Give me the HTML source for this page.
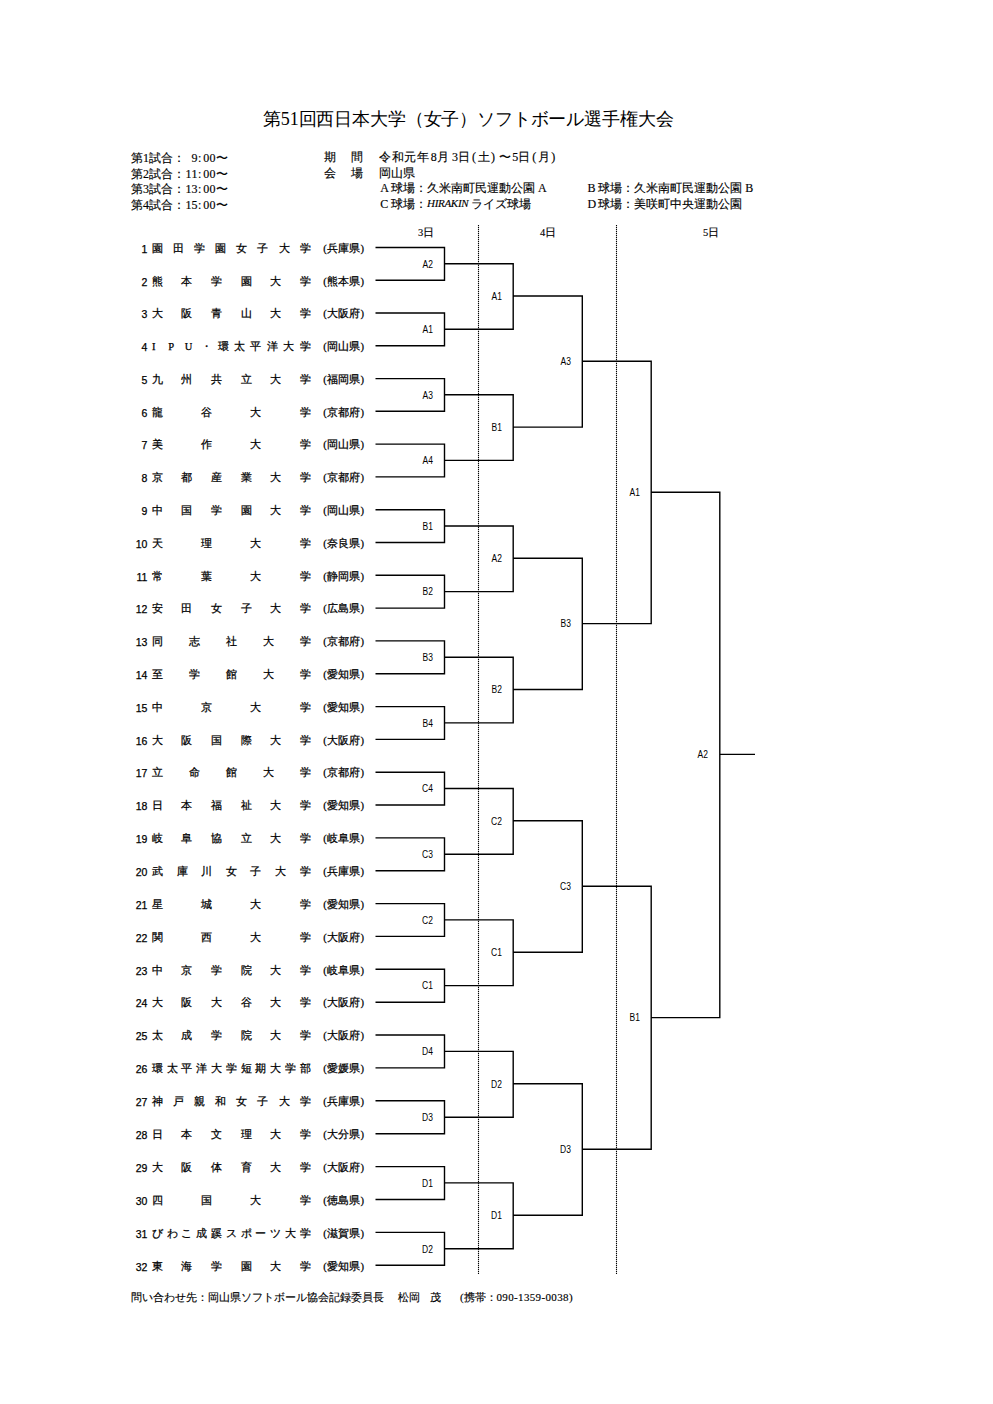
<!DOCTYPE html>
<html><head><meta charset="utf-8">
<style>
html,body{margin:0;padding:0;background:#fff;}
body{width:993px;height:1404px;position:relative;overflow:hidden;font-family:"Liberation Serif",serif;color:#000;}
.nm{-webkit-text-stroke:0.25px #000;} .t{-webkit-text-stroke:0.15px #000;} .ttl{-webkit-text-stroke:0px;}
.t{position:absolute;white-space:nowrap;line-height:1;}
.nm{position:absolute;font-size:10.5px;line-height:10px;white-space:nowrap;}
.lb{position:absolute;font-family:"Liberation Sans",sans-serif;font-size:10px;line-height:10px;white-space:nowrap;transform:translate(-100%,-50%) scaleX(0.85);transform-origin:100% 50%;}
</style></head><body>

<div class="t ttl" style="left:263px;top:109.6px;font-size:18px;letter-spacing:-0.15px;">第51回西日本大学（女子）ソフトボール選手権大会</div>
<div class="t" style="left:131.0px;top:152.0px;font-size:12px;">第1試合</div>
<div class="t" style="left:172.9px;top:152.0px;font-size:12px;">：</div>
<div class="t" style="left:191.6px;top:152.0px;font-size:12px;">9</div>
<div class="t" style="left:197.9px;top:152.0px;font-size:12px;">:</div>
<div class="t" style="left:203.2px;top:152.0px;font-size:12px;">0</div>
<div class="t" style="left:209.5px;top:152.0px;font-size:12px;">0</div>
<div class="t" style="left:215.5px;top:152.0px;font-size:12px;">〜</div>
<div class="t" style="left:131.0px;top:167.7px;font-size:12px;">第2試合</div>
<div class="t" style="left:172.9px;top:167.7px;font-size:12px;">：</div>
<div class="t" style="left:185.5px;top:167.7px;font-size:12px;">1</div>
<div class="t" style="left:191.6px;top:167.7px;font-size:12px;">1</div>
<div class="t" style="left:197.9px;top:167.7px;font-size:12px;">:</div>
<div class="t" style="left:203.2px;top:167.7px;font-size:12px;">0</div>
<div class="t" style="left:209.5px;top:167.7px;font-size:12px;">0</div>
<div class="t" style="left:215.5px;top:167.7px;font-size:12px;">〜</div>
<div class="t" style="left:131.0px;top:183.4px;font-size:12px;">第3試合</div>
<div class="t" style="left:172.9px;top:183.4px;font-size:12px;">：</div>
<div class="t" style="left:185.5px;top:183.4px;font-size:12px;">1</div>
<div class="t" style="left:191.6px;top:183.4px;font-size:12px;">3</div>
<div class="t" style="left:197.9px;top:183.4px;font-size:12px;">:</div>
<div class="t" style="left:203.2px;top:183.4px;font-size:12px;">0</div>
<div class="t" style="left:209.5px;top:183.4px;font-size:12px;">0</div>
<div class="t" style="left:215.5px;top:183.4px;font-size:12px;">〜</div>
<div class="t" style="left:131.0px;top:199.1px;font-size:12px;">第4試合</div>
<div class="t" style="left:172.9px;top:199.1px;font-size:12px;">：</div>
<div class="t" style="left:185.5px;top:199.1px;font-size:12px;">1</div>
<div class="t" style="left:191.6px;top:199.1px;font-size:12px;">5</div>
<div class="t" style="left:197.9px;top:199.1px;font-size:12px;">:</div>
<div class="t" style="left:203.2px;top:199.1px;font-size:12px;">0</div>
<div class="t" style="left:209.5px;top:199.1px;font-size:12px;">0</div>
<div class="t" style="left:215.5px;top:199.1px;font-size:12px;">〜</div>
<div class="t" style="left:324.0px;top:151.0px;font-size:12px;">期</div>
<div class="t" style="left:351.0px;top:151.0px;font-size:12px;">間</div>
<div class="t" style="left:379.0px;top:151.0px;font-size:12px;letter-spacing:0.6px;">令和元年</div>
<div class="t" style="left:430.8px;top:151.0px;font-size:12px;">8</div>
<div class="t" style="left:436.5px;top:151.0px;font-size:12px;">月</div>
<div class="t" style="left:452.0px;top:151.0px;font-size:12px;">3</div>
<div class="t" style="left:458.3px;top:151.0px;font-size:12px;">日</div>
<div class="t" style="left:472.0px;top:151.0px;font-size:12px;">(</div>
<div class="t" style="left:477.5px;top:151.0px;font-size:12px;">土</div>
<div class="t" style="left:491.0px;top:151.0px;font-size:12px;">)</div>
<div class="t" style="left:498.5px;top:151.0px;font-size:12px;">〜</div>
<div class="t" style="left:512.3px;top:151.0px;font-size:12px;">5</div>
<div class="t" style="left:517.7px;top:151.0px;font-size:12px;">日</div>
<div class="t" style="left:532.2px;top:151.0px;font-size:12px;">(</div>
<div class="t" style="left:538.0px;top:151.0px;font-size:12px;">月</div>
<div class="t" style="left:551.3px;top:151.0px;font-size:12px;">)</div>
<div class="t" style="left:324.0px;top:167.0px;font-size:12px;">会</div>
<div class="t" style="left:351.0px;top:167.0px;font-size:12px;">場</div>
<div class="t" style="left:379.0px;top:167.0px;font-size:12px;">岡山県</div>
<div class="t" style="left:380.2px;top:182.0px;font-size:12px;">A</div>
<div class="t" style="left:390.6px;top:182.0px;font-size:12px;letter-spacing:0.05px;">球場：久米南町民運動公園</div>
<div class="t" style="left:538.0px;top:182.0px;font-size:12px;">A</div>
<div class="t" style="left:587.5px;top:182.0px;font-size:12px;">B</div>
<div class="t" style="left:597.9px;top:182.0px;font-size:12px;letter-spacing:0.05px;">球場：久米南町民運動公園</div>
<div class="t" style="left:745.3px;top:182.0px;font-size:12px;">B</div>
<div class="t" style="left:380.2px;top:198.0px;font-size:12px;">C</div>
<div class="t" style="left:390.6px;top:198.0px;font-size:12px;">球場：</div>
<div class="t" style="left:427.0px;top:198.0px;font-size:11px;letter-spacing:-0.3px;"><i>HIRAKIN</i></div>
<div class="t" style="left:470.5px;top:198.0px;font-size:12px;">ライズ球場</div>
<div class="t" style="left:587.5px;top:198.0px;font-size:12px;">D</div>
<div class="t" style="left:597.9px;top:198.0px;font-size:12px;letter-spacing:0.05px;">球場：美咲町中央運動公園</div>
<div class="t" style="left:418.0px;top:228.0px;font-size:10.5px;">3日</div>
<div class="t" style="left:540.0px;top:228.0px;font-size:10.5px;">4日</div>
<div class="t" style="left:703.0px;top:228.0px;font-size:10.5px;">5日</div>
<div class="nm" style="right:845.7px;top:243.7px;font-family:'Liberation Sans',sans-serif;">1</div>
<div class="nm" style="left:151.9px;top:243.7px;">園</div>
<div class="nm" style="left:173.0px;top:243.7px;">田</div>
<div class="nm" style="left:194.1px;top:243.7px;">学</div>
<div class="nm" style="left:215.2px;top:243.7px;">園</div>
<div class="nm" style="left:236.3px;top:243.7px;">女</div>
<div class="nm" style="left:257.4px;top:243.7px;">子</div>
<div class="nm" style="left:278.5px;top:243.7px;">大</div>
<div class="nm" style="left:299.6px;top:243.7px;">学</div>
<div class="nm" style="left:323.2px;top:243.7px;">(</div>
<div class="nm" style="left:327.3px;top:243.7px;">兵</div>
<div class="nm" style="left:338.2px;top:243.7px;">庫</div>
<div class="nm" style="left:349.1px;top:243.7px;">県</div>
<div class="nm" style="left:360.5px;top:243.7px;">)</div>
<div class="nm" style="right:845.7px;top:276.5px;font-family:'Liberation Sans',sans-serif;">2</div>
<div class="nm" style="left:151.9px;top:276.5px;">熊</div>
<div class="nm" style="left:181.4px;top:276.5px;">本</div>
<div class="nm" style="left:211.0px;top:276.5px;">学</div>
<div class="nm" style="left:240.5px;top:276.5px;">園</div>
<div class="nm" style="left:270.1px;top:276.5px;">大</div>
<div class="nm" style="left:299.6px;top:276.5px;">学</div>
<div class="nm" style="left:323.2px;top:276.5px;">(</div>
<div class="nm" style="left:327.3px;top:276.5px;">熊</div>
<div class="nm" style="left:338.2px;top:276.5px;">本</div>
<div class="nm" style="left:349.1px;top:276.5px;">県</div>
<div class="nm" style="left:360.5px;top:276.5px;">)</div>
<div class="nm" style="right:845.7px;top:309.2px;font-family:'Liberation Sans',sans-serif;">3</div>
<div class="nm" style="left:151.9px;top:309.2px;">大</div>
<div class="nm" style="left:181.4px;top:309.2px;">阪</div>
<div class="nm" style="left:211.0px;top:309.2px;">青</div>
<div class="nm" style="left:240.5px;top:309.2px;">山</div>
<div class="nm" style="left:270.1px;top:309.2px;">大</div>
<div class="nm" style="left:299.6px;top:309.2px;">学</div>
<div class="nm" style="left:323.2px;top:309.2px;">(</div>
<div class="nm" style="left:327.3px;top:309.2px;">大</div>
<div class="nm" style="left:338.2px;top:309.2px;">阪</div>
<div class="nm" style="left:349.1px;top:309.2px;">府</div>
<div class="nm" style="left:360.5px;top:309.2px;">)</div>
<div class="nm" style="right:845.7px;top:342.0px;font-family:'Liberation Sans',sans-serif;">4</div>
<div class="nm" style="left:151.9px;top:342.0px;">I</div>
<div class="nm" style="left:168.3px;top:342.0px;">P</div>
<div class="nm" style="left:184.7px;top:342.0px;">U</div>
<div class="nm" style="left:201.1px;top:342.0px;">・</div>
<div class="nm" style="left:217.5px;top:342.0px;">環</div>
<div class="nm" style="left:234.0px;top:342.0px;">太</div>
<div class="nm" style="left:250.4px;top:342.0px;">平</div>
<div class="nm" style="left:266.8px;top:342.0px;">洋</div>
<div class="nm" style="left:283.2px;top:342.0px;">大</div>
<div class="nm" style="left:299.6px;top:342.0px;">学</div>
<div class="nm" style="left:323.2px;top:342.0px;">(</div>
<div class="nm" style="left:327.3px;top:342.0px;">岡</div>
<div class="nm" style="left:338.2px;top:342.0px;">山</div>
<div class="nm" style="left:349.1px;top:342.0px;">県</div>
<div class="nm" style="left:360.5px;top:342.0px;">)</div>
<div class="nm" style="right:845.7px;top:374.8px;font-family:'Liberation Sans',sans-serif;">5</div>
<div class="nm" style="left:151.9px;top:374.8px;">九</div>
<div class="nm" style="left:181.4px;top:374.8px;">州</div>
<div class="nm" style="left:211.0px;top:374.8px;">共</div>
<div class="nm" style="left:240.5px;top:374.8px;">立</div>
<div class="nm" style="left:270.1px;top:374.8px;">大</div>
<div class="nm" style="left:299.6px;top:374.8px;">学</div>
<div class="nm" style="left:323.2px;top:374.8px;">(</div>
<div class="nm" style="left:327.3px;top:374.8px;">福</div>
<div class="nm" style="left:338.2px;top:374.8px;">岡</div>
<div class="nm" style="left:349.1px;top:374.8px;">県</div>
<div class="nm" style="left:360.5px;top:374.8px;">)</div>
<div class="nm" style="right:845.7px;top:407.5px;font-family:'Liberation Sans',sans-serif;">6</div>
<div class="nm" style="left:151.9px;top:407.5px;">龍</div>
<div class="nm" style="left:201.1px;top:407.5px;">谷</div>
<div class="nm" style="left:250.4px;top:407.5px;">大</div>
<div class="nm" style="left:299.6px;top:407.5px;">学</div>
<div class="nm" style="left:323.2px;top:407.5px;">(</div>
<div class="nm" style="left:327.3px;top:407.5px;">京</div>
<div class="nm" style="left:338.2px;top:407.5px;">都</div>
<div class="nm" style="left:349.1px;top:407.5px;">府</div>
<div class="nm" style="left:360.5px;top:407.5px;">)</div>
<div class="nm" style="right:845.7px;top:440.3px;font-family:'Liberation Sans',sans-serif;">7</div>
<div class="nm" style="left:151.9px;top:440.3px;">美</div>
<div class="nm" style="left:201.1px;top:440.3px;">作</div>
<div class="nm" style="left:250.4px;top:440.3px;">大</div>
<div class="nm" style="left:299.6px;top:440.3px;">学</div>
<div class="nm" style="left:323.2px;top:440.3px;">(</div>
<div class="nm" style="left:327.3px;top:440.3px;">岡</div>
<div class="nm" style="left:338.2px;top:440.3px;">山</div>
<div class="nm" style="left:349.1px;top:440.3px;">県</div>
<div class="nm" style="left:360.5px;top:440.3px;">)</div>
<div class="nm" style="right:845.7px;top:473.1px;font-family:'Liberation Sans',sans-serif;">8</div>
<div class="nm" style="left:151.9px;top:473.1px;">京</div>
<div class="nm" style="left:181.4px;top:473.1px;">都</div>
<div class="nm" style="left:211.0px;top:473.1px;">産</div>
<div class="nm" style="left:240.5px;top:473.1px;">業</div>
<div class="nm" style="left:270.1px;top:473.1px;">大</div>
<div class="nm" style="left:299.6px;top:473.1px;">学</div>
<div class="nm" style="left:323.2px;top:473.1px;">(</div>
<div class="nm" style="left:327.3px;top:473.1px;">京</div>
<div class="nm" style="left:338.2px;top:473.1px;">都</div>
<div class="nm" style="left:349.1px;top:473.1px;">府</div>
<div class="nm" style="left:360.5px;top:473.1px;">)</div>
<div class="nm" style="right:845.7px;top:505.9px;font-family:'Liberation Sans',sans-serif;">9</div>
<div class="nm" style="left:151.9px;top:505.9px;">中</div>
<div class="nm" style="left:181.4px;top:505.9px;">国</div>
<div class="nm" style="left:211.0px;top:505.9px;">学</div>
<div class="nm" style="left:240.5px;top:505.9px;">園</div>
<div class="nm" style="left:270.1px;top:505.9px;">大</div>
<div class="nm" style="left:299.6px;top:505.9px;">学</div>
<div class="nm" style="left:323.2px;top:505.9px;">(</div>
<div class="nm" style="left:327.3px;top:505.9px;">岡</div>
<div class="nm" style="left:338.2px;top:505.9px;">山</div>
<div class="nm" style="left:349.1px;top:505.9px;">県</div>
<div class="nm" style="left:360.5px;top:505.9px;">)</div>
<div class="nm" style="right:845.7px;top:538.7px;font-family:'Liberation Sans',sans-serif;">10</div>
<div class="nm" style="left:151.9px;top:538.7px;">天</div>
<div class="nm" style="left:201.1px;top:538.7px;">理</div>
<div class="nm" style="left:250.4px;top:538.7px;">大</div>
<div class="nm" style="left:299.6px;top:538.7px;">学</div>
<div class="nm" style="left:323.2px;top:538.7px;">(</div>
<div class="nm" style="left:327.3px;top:538.7px;">奈</div>
<div class="nm" style="left:338.2px;top:538.7px;">良</div>
<div class="nm" style="left:349.1px;top:538.7px;">県</div>
<div class="nm" style="left:360.5px;top:538.7px;">)</div>
<div class="nm" style="right:845.7px;top:571.5px;font-family:'Liberation Sans',sans-serif;">11</div>
<div class="nm" style="left:151.9px;top:571.5px;">常</div>
<div class="nm" style="left:201.1px;top:571.5px;">葉</div>
<div class="nm" style="left:250.4px;top:571.5px;">大</div>
<div class="nm" style="left:299.6px;top:571.5px;">学</div>
<div class="nm" style="left:323.2px;top:571.5px;">(</div>
<div class="nm" style="left:327.3px;top:571.5px;">静</div>
<div class="nm" style="left:338.2px;top:571.5px;">岡</div>
<div class="nm" style="left:349.1px;top:571.5px;">県</div>
<div class="nm" style="left:360.5px;top:571.5px;">)</div>
<div class="nm" style="right:845.7px;top:604.3px;font-family:'Liberation Sans',sans-serif;">12</div>
<div class="nm" style="left:151.9px;top:604.3px;">安</div>
<div class="nm" style="left:181.4px;top:604.3px;">田</div>
<div class="nm" style="left:211.0px;top:604.3px;">女</div>
<div class="nm" style="left:240.5px;top:604.3px;">子</div>
<div class="nm" style="left:270.1px;top:604.3px;">大</div>
<div class="nm" style="left:299.6px;top:604.3px;">学</div>
<div class="nm" style="left:323.2px;top:604.3px;">(</div>
<div class="nm" style="left:327.3px;top:604.3px;">広</div>
<div class="nm" style="left:338.2px;top:604.3px;">島</div>
<div class="nm" style="left:349.1px;top:604.3px;">県</div>
<div class="nm" style="left:360.5px;top:604.3px;">)</div>
<div class="nm" style="right:845.7px;top:637.1px;font-family:'Liberation Sans',sans-serif;">13</div>
<div class="nm" style="left:151.9px;top:637.1px;">同</div>
<div class="nm" style="left:188.8px;top:637.1px;">志</div>
<div class="nm" style="left:225.8px;top:637.1px;">社</div>
<div class="nm" style="left:262.7px;top:637.1px;">大</div>
<div class="nm" style="left:299.6px;top:637.1px;">学</div>
<div class="nm" style="left:323.2px;top:637.1px;">(</div>
<div class="nm" style="left:327.3px;top:637.1px;">京</div>
<div class="nm" style="left:338.2px;top:637.1px;">都</div>
<div class="nm" style="left:349.1px;top:637.1px;">府</div>
<div class="nm" style="left:360.5px;top:637.1px;">)</div>
<div class="nm" style="right:845.7px;top:669.9px;font-family:'Liberation Sans',sans-serif;">14</div>
<div class="nm" style="left:151.9px;top:669.9px;">至</div>
<div class="nm" style="left:188.8px;top:669.9px;">学</div>
<div class="nm" style="left:225.8px;top:669.9px;">館</div>
<div class="nm" style="left:262.7px;top:669.9px;">大</div>
<div class="nm" style="left:299.6px;top:669.9px;">学</div>
<div class="nm" style="left:323.2px;top:669.9px;">(</div>
<div class="nm" style="left:327.3px;top:669.9px;">愛</div>
<div class="nm" style="left:338.2px;top:669.9px;">知</div>
<div class="nm" style="left:349.1px;top:669.9px;">県</div>
<div class="nm" style="left:360.5px;top:669.9px;">)</div>
<div class="nm" style="right:845.7px;top:702.8px;font-family:'Liberation Sans',sans-serif;">15</div>
<div class="nm" style="left:151.9px;top:702.8px;">中</div>
<div class="nm" style="left:201.1px;top:702.8px;">京</div>
<div class="nm" style="left:250.4px;top:702.8px;">大</div>
<div class="nm" style="left:299.6px;top:702.8px;">学</div>
<div class="nm" style="left:323.2px;top:702.8px;">(</div>
<div class="nm" style="left:327.3px;top:702.8px;">愛</div>
<div class="nm" style="left:338.2px;top:702.8px;">知</div>
<div class="nm" style="left:349.1px;top:702.8px;">県</div>
<div class="nm" style="left:360.5px;top:702.8px;">)</div>
<div class="nm" style="right:845.7px;top:735.6px;font-family:'Liberation Sans',sans-serif;">16</div>
<div class="nm" style="left:151.9px;top:735.6px;">大</div>
<div class="nm" style="left:181.4px;top:735.6px;">阪</div>
<div class="nm" style="left:211.0px;top:735.6px;">国</div>
<div class="nm" style="left:240.5px;top:735.6px;">際</div>
<div class="nm" style="left:270.1px;top:735.6px;">大</div>
<div class="nm" style="left:299.6px;top:735.6px;">学</div>
<div class="nm" style="left:323.2px;top:735.6px;">(</div>
<div class="nm" style="left:327.3px;top:735.6px;">大</div>
<div class="nm" style="left:338.2px;top:735.6px;">阪</div>
<div class="nm" style="left:349.1px;top:735.6px;">府</div>
<div class="nm" style="left:360.5px;top:735.6px;">)</div>
<div class="nm" style="right:845.7px;top:768.4px;font-family:'Liberation Sans',sans-serif;">17</div>
<div class="nm" style="left:151.9px;top:768.4px;">立</div>
<div class="nm" style="left:188.8px;top:768.4px;">命</div>
<div class="nm" style="left:225.8px;top:768.4px;">館</div>
<div class="nm" style="left:262.7px;top:768.4px;">大</div>
<div class="nm" style="left:299.6px;top:768.4px;">学</div>
<div class="nm" style="left:323.2px;top:768.4px;">(</div>
<div class="nm" style="left:327.3px;top:768.4px;">京</div>
<div class="nm" style="left:338.2px;top:768.4px;">都</div>
<div class="nm" style="left:349.1px;top:768.4px;">府</div>
<div class="nm" style="left:360.5px;top:768.4px;">)</div>
<div class="nm" style="right:845.7px;top:801.2px;font-family:'Liberation Sans',sans-serif;">18</div>
<div class="nm" style="left:151.9px;top:801.2px;">日</div>
<div class="nm" style="left:181.4px;top:801.2px;">本</div>
<div class="nm" style="left:211.0px;top:801.2px;">福</div>
<div class="nm" style="left:240.5px;top:801.2px;">祉</div>
<div class="nm" style="left:270.1px;top:801.2px;">大</div>
<div class="nm" style="left:299.6px;top:801.2px;">学</div>
<div class="nm" style="left:323.2px;top:801.2px;">(</div>
<div class="nm" style="left:327.3px;top:801.2px;">愛</div>
<div class="nm" style="left:338.2px;top:801.2px;">知</div>
<div class="nm" style="left:349.1px;top:801.2px;">県</div>
<div class="nm" style="left:360.5px;top:801.2px;">)</div>
<div class="nm" style="right:845.7px;top:834.1px;font-family:'Liberation Sans',sans-serif;">19</div>
<div class="nm" style="left:151.9px;top:834.1px;">岐</div>
<div class="nm" style="left:181.4px;top:834.1px;">阜</div>
<div class="nm" style="left:211.0px;top:834.1px;">協</div>
<div class="nm" style="left:240.5px;top:834.1px;">立</div>
<div class="nm" style="left:270.1px;top:834.1px;">大</div>
<div class="nm" style="left:299.6px;top:834.1px;">学</div>
<div class="nm" style="left:323.2px;top:834.1px;">(</div>
<div class="nm" style="left:327.3px;top:834.1px;">岐</div>
<div class="nm" style="left:338.2px;top:834.1px;">阜</div>
<div class="nm" style="left:349.1px;top:834.1px;">県</div>
<div class="nm" style="left:360.5px;top:834.1px;">)</div>
<div class="nm" style="right:845.7px;top:866.9px;font-family:'Liberation Sans',sans-serif;">20</div>
<div class="nm" style="left:151.9px;top:866.9px;">武</div>
<div class="nm" style="left:176.5px;top:866.9px;">庫</div>
<div class="nm" style="left:201.1px;top:866.9px;">川</div>
<div class="nm" style="left:225.8px;top:866.9px;">女</div>
<div class="nm" style="left:250.4px;top:866.9px;">子</div>
<div class="nm" style="left:275.0px;top:866.9px;">大</div>
<div class="nm" style="left:299.6px;top:866.9px;">学</div>
<div class="nm" style="left:323.2px;top:866.9px;">(</div>
<div class="nm" style="left:327.3px;top:866.9px;">兵</div>
<div class="nm" style="left:338.2px;top:866.9px;">庫</div>
<div class="nm" style="left:349.1px;top:866.9px;">県</div>
<div class="nm" style="left:360.5px;top:866.9px;">)</div>
<div class="nm" style="right:845.7px;top:899.8px;font-family:'Liberation Sans',sans-serif;">21</div>
<div class="nm" style="left:151.9px;top:899.8px;">星</div>
<div class="nm" style="left:201.1px;top:899.8px;">城</div>
<div class="nm" style="left:250.4px;top:899.8px;">大</div>
<div class="nm" style="left:299.6px;top:899.8px;">学</div>
<div class="nm" style="left:323.2px;top:899.8px;">(</div>
<div class="nm" style="left:327.3px;top:899.8px;">愛</div>
<div class="nm" style="left:338.2px;top:899.8px;">知</div>
<div class="nm" style="left:349.1px;top:899.8px;">県</div>
<div class="nm" style="left:360.5px;top:899.8px;">)</div>
<div class="nm" style="right:845.7px;top:932.6px;font-family:'Liberation Sans',sans-serif;">22</div>
<div class="nm" style="left:151.9px;top:932.6px;">関</div>
<div class="nm" style="left:201.1px;top:932.6px;">西</div>
<div class="nm" style="left:250.4px;top:932.6px;">大</div>
<div class="nm" style="left:299.6px;top:932.6px;">学</div>
<div class="nm" style="left:323.2px;top:932.6px;">(</div>
<div class="nm" style="left:327.3px;top:932.6px;">大</div>
<div class="nm" style="left:338.2px;top:932.6px;">阪</div>
<div class="nm" style="left:349.1px;top:932.6px;">府</div>
<div class="nm" style="left:360.5px;top:932.6px;">)</div>
<div class="nm" style="right:845.7px;top:965.5px;font-family:'Liberation Sans',sans-serif;">23</div>
<div class="nm" style="left:151.9px;top:965.5px;">中</div>
<div class="nm" style="left:181.4px;top:965.5px;">京</div>
<div class="nm" style="left:211.0px;top:965.5px;">学</div>
<div class="nm" style="left:240.5px;top:965.5px;">院</div>
<div class="nm" style="left:270.1px;top:965.5px;">大</div>
<div class="nm" style="left:299.6px;top:965.5px;">学</div>
<div class="nm" style="left:323.2px;top:965.5px;">(</div>
<div class="nm" style="left:327.3px;top:965.5px;">岐</div>
<div class="nm" style="left:338.2px;top:965.5px;">阜</div>
<div class="nm" style="left:349.1px;top:965.5px;">県</div>
<div class="nm" style="left:360.5px;top:965.5px;">)</div>
<div class="nm" style="right:845.7px;top:998.4px;font-family:'Liberation Sans',sans-serif;">24</div>
<div class="nm" style="left:151.9px;top:998.4px;">大</div>
<div class="nm" style="left:181.4px;top:998.4px;">阪</div>
<div class="nm" style="left:211.0px;top:998.4px;">大</div>
<div class="nm" style="left:240.5px;top:998.4px;">谷</div>
<div class="nm" style="left:270.1px;top:998.4px;">大</div>
<div class="nm" style="left:299.6px;top:998.4px;">学</div>
<div class="nm" style="left:323.2px;top:998.4px;">(</div>
<div class="nm" style="left:327.3px;top:998.4px;">大</div>
<div class="nm" style="left:338.2px;top:998.4px;">阪</div>
<div class="nm" style="left:349.1px;top:998.4px;">府</div>
<div class="nm" style="left:360.5px;top:998.4px;">)</div>
<div class="nm" style="right:845.7px;top:1031.2px;font-family:'Liberation Sans',sans-serif;">25</div>
<div class="nm" style="left:151.9px;top:1031.2px;">太</div>
<div class="nm" style="left:181.4px;top:1031.2px;">成</div>
<div class="nm" style="left:211.0px;top:1031.2px;">学</div>
<div class="nm" style="left:240.5px;top:1031.2px;">院</div>
<div class="nm" style="left:270.1px;top:1031.2px;">大</div>
<div class="nm" style="left:299.6px;top:1031.2px;">学</div>
<div class="nm" style="left:323.2px;top:1031.2px;">(</div>
<div class="nm" style="left:327.3px;top:1031.2px;">大</div>
<div class="nm" style="left:338.2px;top:1031.2px;">阪</div>
<div class="nm" style="left:349.1px;top:1031.2px;">府</div>
<div class="nm" style="left:360.5px;top:1031.2px;">)</div>
<div class="nm" style="right:845.7px;top:1064.1px;font-family:'Liberation Sans',sans-serif;">26</div>
<div class="nm" style="left:151.9px;top:1064.1px;">環</div>
<div class="nm" style="left:166.7px;top:1064.1px;">太</div>
<div class="nm" style="left:181.4px;top:1064.1px;">平</div>
<div class="nm" style="left:196.2px;top:1064.1px;">洋</div>
<div class="nm" style="left:211.0px;top:1064.1px;">大</div>
<div class="nm" style="left:225.8px;top:1064.1px;">学</div>
<div class="nm" style="left:240.5px;top:1064.1px;">短</div>
<div class="nm" style="left:255.3px;top:1064.1px;">期</div>
<div class="nm" style="left:270.1px;top:1064.1px;">大</div>
<div class="nm" style="left:284.8px;top:1064.1px;">学</div>
<div class="nm" style="left:299.6px;top:1064.1px;">部</div>
<div class="nm" style="left:323.2px;top:1064.1px;">(</div>
<div class="nm" style="left:327.3px;top:1064.1px;">愛</div>
<div class="nm" style="left:338.2px;top:1064.1px;">媛</div>
<div class="nm" style="left:349.1px;top:1064.1px;">県</div>
<div class="nm" style="left:360.5px;top:1064.1px;">)</div>
<div class="nm" style="right:845.7px;top:1097.0px;font-family:'Liberation Sans',sans-serif;">27</div>
<div class="nm" style="left:151.9px;top:1097.0px;">神</div>
<div class="nm" style="left:173.0px;top:1097.0px;">戸</div>
<div class="nm" style="left:194.1px;top:1097.0px;">親</div>
<div class="nm" style="left:215.2px;top:1097.0px;">和</div>
<div class="nm" style="left:236.3px;top:1097.0px;">女</div>
<div class="nm" style="left:257.4px;top:1097.0px;">子</div>
<div class="nm" style="left:278.5px;top:1097.0px;">大</div>
<div class="nm" style="left:299.6px;top:1097.0px;">学</div>
<div class="nm" style="left:323.2px;top:1097.0px;">(</div>
<div class="nm" style="left:327.3px;top:1097.0px;">兵</div>
<div class="nm" style="left:338.2px;top:1097.0px;">庫</div>
<div class="nm" style="left:349.1px;top:1097.0px;">県</div>
<div class="nm" style="left:360.5px;top:1097.0px;">)</div>
<div class="nm" style="right:845.7px;top:1129.9px;font-family:'Liberation Sans',sans-serif;">28</div>
<div class="nm" style="left:151.9px;top:1129.9px;">日</div>
<div class="nm" style="left:181.4px;top:1129.9px;">本</div>
<div class="nm" style="left:211.0px;top:1129.9px;">文</div>
<div class="nm" style="left:240.5px;top:1129.9px;">理</div>
<div class="nm" style="left:270.1px;top:1129.9px;">大</div>
<div class="nm" style="left:299.6px;top:1129.9px;">学</div>
<div class="nm" style="left:323.2px;top:1129.9px;">(</div>
<div class="nm" style="left:327.3px;top:1129.9px;">大</div>
<div class="nm" style="left:338.2px;top:1129.9px;">分</div>
<div class="nm" style="left:349.1px;top:1129.9px;">県</div>
<div class="nm" style="left:360.5px;top:1129.9px;">)</div>
<div class="nm" style="right:845.7px;top:1162.8px;font-family:'Liberation Sans',sans-serif;">29</div>
<div class="nm" style="left:151.9px;top:1162.8px;">大</div>
<div class="nm" style="left:181.4px;top:1162.8px;">阪</div>
<div class="nm" style="left:211.0px;top:1162.8px;">体</div>
<div class="nm" style="left:240.5px;top:1162.8px;">育</div>
<div class="nm" style="left:270.1px;top:1162.8px;">大</div>
<div class="nm" style="left:299.6px;top:1162.8px;">学</div>
<div class="nm" style="left:323.2px;top:1162.8px;">(</div>
<div class="nm" style="left:327.3px;top:1162.8px;">大</div>
<div class="nm" style="left:338.2px;top:1162.8px;">阪</div>
<div class="nm" style="left:349.1px;top:1162.8px;">府</div>
<div class="nm" style="left:360.5px;top:1162.8px;">)</div>
<div class="nm" style="right:845.7px;top:1195.7px;font-family:'Liberation Sans',sans-serif;">30</div>
<div class="nm" style="left:151.9px;top:1195.7px;">四</div>
<div class="nm" style="left:201.1px;top:1195.7px;">国</div>
<div class="nm" style="left:250.4px;top:1195.7px;">大</div>
<div class="nm" style="left:299.6px;top:1195.7px;">学</div>
<div class="nm" style="left:323.2px;top:1195.7px;">(</div>
<div class="nm" style="left:327.3px;top:1195.7px;">徳</div>
<div class="nm" style="left:338.2px;top:1195.7px;">島</div>
<div class="nm" style="left:349.1px;top:1195.7px;">県</div>
<div class="nm" style="left:360.5px;top:1195.7px;">)</div>
<div class="nm" style="right:845.7px;top:1228.6px;font-family:'Liberation Sans',sans-serif;">31</div>
<div class="nm" style="left:151.9px;top:1228.6px;">び</div>
<div class="nm" style="left:166.7px;top:1228.6px;">わ</div>
<div class="nm" style="left:181.4px;top:1228.6px;">こ</div>
<div class="nm" style="left:196.2px;top:1228.6px;">成</div>
<div class="nm" style="left:211.0px;top:1228.6px;">蹊</div>
<div class="nm" style="left:225.8px;top:1228.6px;">ス</div>
<div class="nm" style="left:240.5px;top:1228.6px;">ポ</div>
<div class="nm" style="left:255.3px;top:1228.6px;">ー</div>
<div class="nm" style="left:270.1px;top:1228.6px;">ツ</div>
<div class="nm" style="left:284.8px;top:1228.6px;">大</div>
<div class="nm" style="left:299.6px;top:1228.6px;">学</div>
<div class="nm" style="left:323.2px;top:1228.6px;">(</div>
<div class="nm" style="left:327.3px;top:1228.6px;">滋</div>
<div class="nm" style="left:338.2px;top:1228.6px;">賀</div>
<div class="nm" style="left:349.1px;top:1228.6px;">県</div>
<div class="nm" style="left:360.5px;top:1228.6px;">)</div>
<div class="nm" style="right:845.7px;top:1261.5px;font-family:'Liberation Sans',sans-serif;">32</div>
<div class="nm" style="left:151.9px;top:1261.5px;">東</div>
<div class="nm" style="left:181.4px;top:1261.5px;">海</div>
<div class="nm" style="left:211.0px;top:1261.5px;">学</div>
<div class="nm" style="left:240.5px;top:1261.5px;">園</div>
<div class="nm" style="left:270.1px;top:1261.5px;">大</div>
<div class="nm" style="left:299.6px;top:1261.5px;">学</div>
<div class="nm" style="left:323.2px;top:1261.5px;">(</div>
<div class="nm" style="left:327.3px;top:1261.5px;">愛</div>
<div class="nm" style="left:338.2px;top:1261.5px;">知</div>
<div class="nm" style="left:349.1px;top:1261.5px;">県</div>
<div class="nm" style="left:360.5px;top:1261.5px;">)</div>
<svg width="993" height="1404" style="position:absolute;left:0;top:0">
<path d="M375.5 247.5H444.5V280.3H375.5 M375.5 313.0H444.5V345.8H375.5 M375.5 378.6H444.5V411.3H375.5 M375.5 444.1H444.5V476.9H375.5 M375.5 509.7H444.5V542.5H375.5 M375.5 575.3H444.5V608.1H375.5 M375.5 640.9H444.5V673.7H375.5 M375.5 706.6H444.5V739.4H375.5 M375.5 772.2H444.5V805.0H375.5 M375.5 837.9H444.5V870.7H375.5 M375.5 903.6H444.5V936.4H375.5 M375.5 969.3H444.5V1002.2H375.5 M375.5 1035.0H444.5V1067.9H375.5 M375.5 1100.8H444.5V1133.7H375.5 M375.5 1166.6H444.5V1199.5H375.5 M375.5 1232.4H444.5V1265.3H375.5 M444.5 263.8H513.2V329.3H444.5 M444.5 394.8H513.2V460.4H444.5 M444.5 526.0H513.2V591.6H444.5 M444.5 657.2H513.2V722.9H444.5 M444.5 788.5H513.2V854.2H444.5 M444.5 919.9H513.2V985.6H444.5 M444.5 1051.4H513.2V1117.2H444.5 M444.5 1182.9H513.2V1248.7H444.5 M513.2 296.0H582.3V427.1H513.2 M513.2 558.2H582.3V689.5H513.2 M513.2 820.8H582.3V952.2H513.2 M513.2 1083.7H582.3V1215.3H513.2 M582.3 361.2H651.2V623.6H582.3 M582.3 886.2H651.2V1149.2H582.3 M651.2 492.3H719.8V1017.6H651.2 M719.8 754.4H755.0" fill="none" stroke="#000" stroke-width="1.4"/>
<path d="M478.5 225V1274 M616.5 225V1274" fill="none" stroke="#000" stroke-width="1.1" stroke-dasharray="1.2 0.8"/>
</svg>
<div class="lb" style="left:433.0px;top:264.6px;">A2</div>
<div class="lb" style="left:433.0px;top:330.1px;">A1</div>
<div class="lb" style="left:433.0px;top:395.6px;">A3</div>
<div class="lb" style="left:433.0px;top:461.2px;">A4</div>
<div class="lb" style="left:433.0px;top:526.8px;">B1</div>
<div class="lb" style="left:433.0px;top:592.4px;">B2</div>
<div class="lb" style="left:433.0px;top:658.0px;">B3</div>
<div class="lb" style="left:433.0px;top:723.7px;">B4</div>
<div class="lb" style="left:433.0px;top:789.3px;">C4</div>
<div class="lb" style="left:433.0px;top:855.0px;">C3</div>
<div class="lb" style="left:433.0px;top:920.7px;">C2</div>
<div class="lb" style="left:433.0px;top:986.4px;">C1</div>
<div class="lb" style="left:433.0px;top:1052.2px;">D4</div>
<div class="lb" style="left:433.0px;top:1118.0px;">D3</div>
<div class="lb" style="left:433.0px;top:1183.7px;">D1</div>
<div class="lb" style="left:433.0px;top:1249.5px;">D2</div>
<div class="lb" style="left:501.7px;top:296.8px;">A1</div>
<div class="lb" style="left:501.7px;top:427.9px;">B1</div>
<div class="lb" style="left:501.7px;top:559.0px;">A2</div>
<div class="lb" style="left:501.7px;top:690.3px;">B2</div>
<div class="lb" style="left:501.7px;top:821.6px;">C2</div>
<div class="lb" style="left:501.7px;top:953.0px;">C1</div>
<div class="lb" style="left:501.7px;top:1084.5px;">D2</div>
<div class="lb" style="left:501.7px;top:1216.1px;">D1</div>
<div class="lb" style="left:570.8px;top:362.0px;">A3</div>
<div class="lb" style="left:570.8px;top:624.4px;">B3</div>
<div class="lb" style="left:570.8px;top:887.0px;">C3</div>
<div class="lb" style="left:570.8px;top:1150.0px;">D3</div>
<div class="lb" style="left:639.7px;top:493.1px;">A1</div>
<div class="lb" style="left:639.7px;top:1018.4px;">B1</div>
<div class="lb" style="left:708.3px;top:755.2px;">A2</div>
<div class="t" style="left:131.0px;top:1292.0px;font-size:11px;">問い合わせ先：岡山県ソフトボール協会記録委員長</div>
<div class="t" style="left:397.5px;top:1292.0px;font-size:11px;">松岡</div>
<div class="t" style="left:429.5px;top:1292.0px;font-size:11px;">茂</div>
<div class="t" style="left:460.0px;top:1292.0px;font-size:11px;">(携帯：</div>
<div class="t" style="left:496.5px;top:1292.0px;font-size:11px;letter-spacing:0.35px;">090-1359-0038)</div>
</body></html>
